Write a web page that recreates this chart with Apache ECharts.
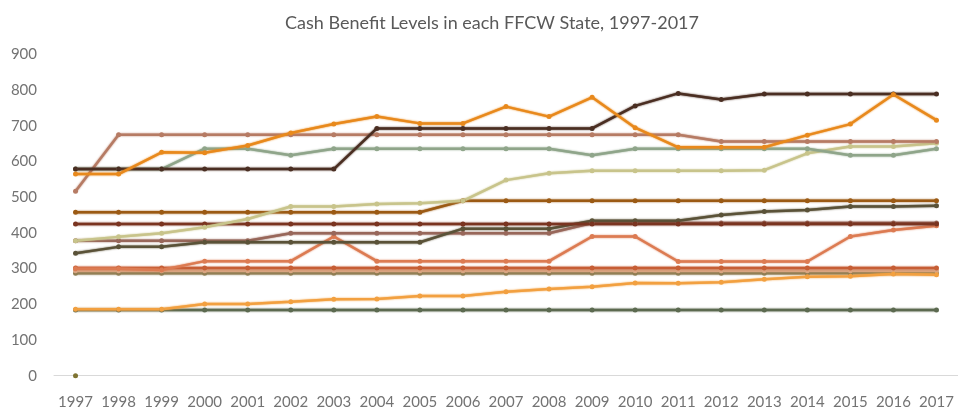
<!DOCTYPE html>
<html>
<head>
<meta charset="utf-8">
<script src="https://cdn.jsdelivr.net/npm/echarts@6/dist/echarts.min.js"></script>
<style>html,body{margin:0;padding:0;background:#fff}#c{width:958px;height:413px}</style>
</head>
<body>
<div id="c"></div>
<script>
const years = ['1997','1998','1999','2000','2001','2002','2003','2004','2005','2006','2007','2008','2009','2010','2011','2012','2013','2014','2015','2016','2017'];
const yTicks = [0,100,200,300,400,500,600,700,800,900];

const sOrange     = [565,565,626,625,645,680,705,726,707,707,754,726,780,695,640,640,640,674,705,788,716];
const sRose       = [517,675,675,675,675,675,675,675,675,675,675,675,675,675,675,656,656,656,656,656,656];
const sSage       = [579,579,579,636,636,618,636,636,636,636,636,636,618,636,636,636,636,636,618,618,636];
const sDarkBrown  = [579,579,579,579,579,579,579,693,693,693,693,693,693,756,791,774,789,789,789,789,789];
const sKhaki      = [378,389,399,416,439,474,474,481,483,490,548,567,574,574,574,574,576,623,642,642,651];
const sSaddle     = [458,458,458,458,458,458,458,458,458,490,490,490,490,490,490,490,490,490,490,490,490];
const sDarkRed    = [425,425,425,425,425,425,425,425,425,425,425,425,425,425,425,425,425,425,425,425,425];
const sMauve      = [378,378,378,378,378,399,399,399,399,399,399,399,428,428,428,428,428,428,428,428,428];
const sDarkOlive  = [343,361,361,374,374,374,374,374,374,412,412,412,434,434,434,450,460,464,474,474,476];
const sCoral      = [300,300,296,321,321,321,390,321,321,321,321,321,390,390,320,320,320,320,390,408,420];
const sDarkCoral  = [302,302,302,302,302,302,302,302,302,302,302,302,302,302,302,302,302,302,302,302,302];
const sPeach      = [294,294,294,294,294,294,294,294,294,294,294,294,294,294,294,294,294,294,294,294,294];
const sOliveTan   = [287,287,287,287,287,287,287,287,287,287,287,287,287,287,287,287,287,287,287,287,287];
const sLightOrange= [186,186,186,201,201,207,214,215,223,223,235,243,249,260,259,262,270,277,279,285,283];
const sDarkGreen  = [184,184,184,184,184,184,184,184,184,184,184,184,184,184,184,184,184,184,184,184,184];
const sOliveDot   = [0,null,null,null,null,null,null,null,null,null,null,null,null,null,null,null,null,null,null,null,null];

const seriesDefs = [
  ['Olive tan', sOliveTan, '#8F7D52'],
  ['Peach', sPeach, '#D9A582'],
  ['Dark coral', sDarkCoral, '#C65E35'],
  ['Dark green', sDarkGreen, '#5C6A50'],
  ['Light orange', sLightOrange, '#F2A040'],
  ['Coral', sCoral, '#DC7B52'],
  ['Mauve', sMauve, '#98675A'],
  ['Dark olive', sDarkOlive, '#5A5238'],
  ['Dark red', sDarkRed, '#7A3420'],
  ['Saddle', sSaddle, '#9B5A14'],
  ['Khaki', sKhaki, '#C8C48B'],
  ['Sage', sSage, '#8FA58A'],
  ['Rose', sRose, '#B67B64'],
  ['Dark brown', sDarkBrown, '#4A2E22'],
  ['Orange', sOrange, '#E8891C'],
  ['Olive dot', sOliveDot, '#7F7432']
];

const chart = echarts.init(document.getElementById('c'), null, {renderer:'canvas'});
chart.setOption({
  animation: false,
  backgroundColor: '#ffffff',
  title: {
    text: 'Cash Benefit Levels in each FFCW State, 1997-2017',
    left: 487, top: 9, textAlign: 'center',
    textStyle: {fontFamily: 'Lato', fontSize: 18, fontWeight: 'normal', color: '#595959'}
  },
  grid: {left: 54, right: 0, top: 54.5, bottom: 37.3, containLabel: false},
  xAxis: {
    type: 'category', data: years, boundaryGap: true,
    axisLine: {show: true, lineStyle: {color: '#D9D9D9', width: 1}},
    axisTick: {show: false},
    axisLabel: {color: '#737373', fontFamily: 'Lato', fontSize: 15, margin: 19, interval: 0}
  },
  yAxis: {
    type: 'value', min: yTicks[0], max: yTicks[yTicks.length-1], interval: 100,
    axisLine: {show: false}, axisTick: {show: false},
    splitLine: {show: false},
    axisLabel: {color: '#737373', fontFamily: 'Lato', fontSize: 15, margin: 17}
  },
  series: seriesDefs.map(([name, data, color]) => ({
    name, type: 'line', data,
    symbol: 'circle', symbolSize: 5, showSymbol: true,
    itemStyle: {color},
    lineStyle: {color, width: 2.5, shadowBlur: 2, shadowColor: color},
    connectNulls: false
  }))
});
</script>
</body>
</html>
